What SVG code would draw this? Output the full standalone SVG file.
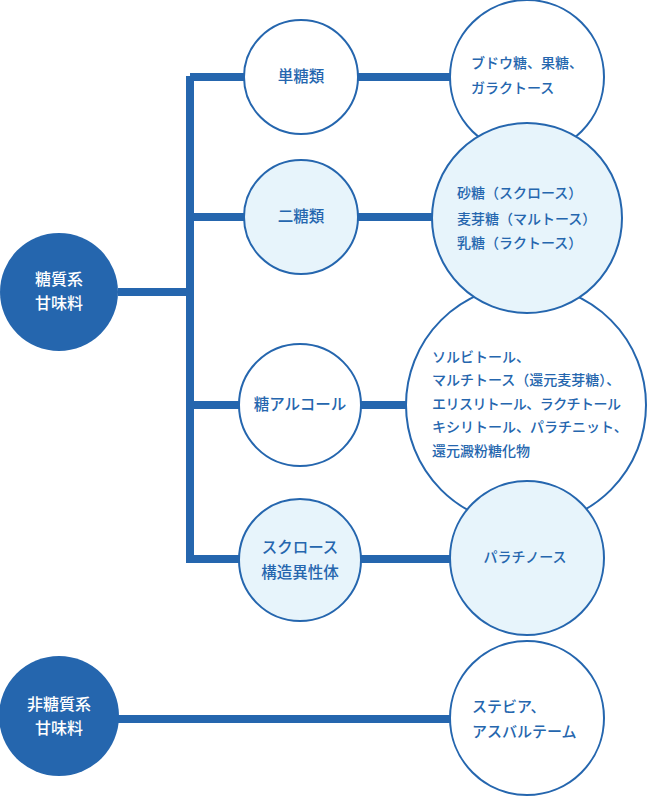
<svg xmlns="http://www.w3.org/2000/svg" width="647" height="798" viewBox="0 0 647 798">
<style>
.ln{stroke:#2566ae;stroke-width:8;fill:none}
.dk{fill:#2566ae}
.wc{fill:#ffffff;stroke:#2566ae;stroke-width:2}
.lc{fill:#e7f4fb;stroke:#2566ae;stroke-width:2}
text{font-family:"Noto Sans CJK JP","Noto Sans",sans-serif;font-weight:500}
.wt{fill:#ffffff;font-size:16px;text-anchor:middle}
.mt{fill:#2566ae;font-size:15.5px;text-anchor:middle}
.rt{fill:#2566ae;font-size:14px}
</style>
<g id="connectors">
<path class="ln" d="M190 76V563"/>
<path class="ln" d="M118 292H190"/>
<path class="ln" d="M190 77H245"/>
<path class="ln" d="M190 217H245"/>
<path class="ln" d="M190 405H240"/>
<path class="ln" d="M190 559H240"/>
<path class="ln" d="M356 77H452"/>
<path class="ln" d="M356 217H434"/>
<path class="ln" d="M360 405H408"/>
<path class="ln" d="M360 559H452"/>
<path class="ln" d="M118 719H452"/>
</g>
<g id="r1"><circle class="wc" cx="527" cy="77" r="77"/>
<text class="rt"><tspan x="471" y="68">ブドウ糖、果糖、</tspan><tspan x="471" y="93">ガラクトース</tspan></text></g>
<g id="r3"><circle class="wc" cx="526" cy="405" r="120"/>
<text class="rt"><tspan x="432" y="362">ソルビトール、</tspan><tspan x="432" y="385">マルチトース（還元麦芽糖）、</tspan><tspan x="432" y="409" textLength="189" lengthAdjust="spacing">エリスリトール、ラクチトール</tspan><tspan x="432" y="432">キシリトール、パラチニット、</tspan><tspan x="432" y="456">還元澱粉糖化物</tspan></text></g>
<g id="r2"><circle class="lc" cx="527" cy="218" r="95"/>
<text class="rt"><tspan x="457" y="198">砂糖（スクロース）</tspan><tspan x="457" y="224">麦芽糖（マルトース）</tspan><tspan x="457" y="248">乳糖（ラクトース）</tspan></text></g>
<g id="r4"><circle class="lc" cx="527" cy="558" r="77"/>
<text class="rt" text-anchor="middle" x="525" y="562">パラチノース</text></g>
<g id="r5"><circle class="wc" cx="527" cy="718" r="77"/>
<text class="rt" style="font-size:15px"><tspan x="472" y="712">ステビア、</tspan><tspan x="472" y="737">アスバルテーム</tspan></text></g>
<g id="m1"><circle class="wc" cx="301" cy="77" r="57"/><text class="mt" x="301" y="82">単糖類</text></g>
<g id="m2"><circle class="lc" cx="301" cy="217" r="57"/><text class="mt" x="301" y="222">二糖類</text></g>
<g id="m3"><circle class="wc" cx="300" cy="405" r="61"/><text class="mt" x="300" y="410">糖アルコール</text></g>
<g id="m4"><circle class="lc" cx="300" cy="560" r="61"/><text class="mt"><tspan x="300" y="553">スクロース</tspan><tspan x="300" y="578">構造異性体</tspan></text></g>
<g id="d1"><circle class="dk" cx="59" cy="292" r="59"/><text class="wt"><tspan x="59" y="285">糖質系</tspan><tspan x="59" y="309">甘味料</tspan></text></g>
<g id="d2"><circle class="dk" cx="59" cy="716" r="60"/><text class="wt"><tspan x="59" y="710">非糖質系</tspan><tspan x="59" y="734">甘味料</tspan></text></g>
</svg>
